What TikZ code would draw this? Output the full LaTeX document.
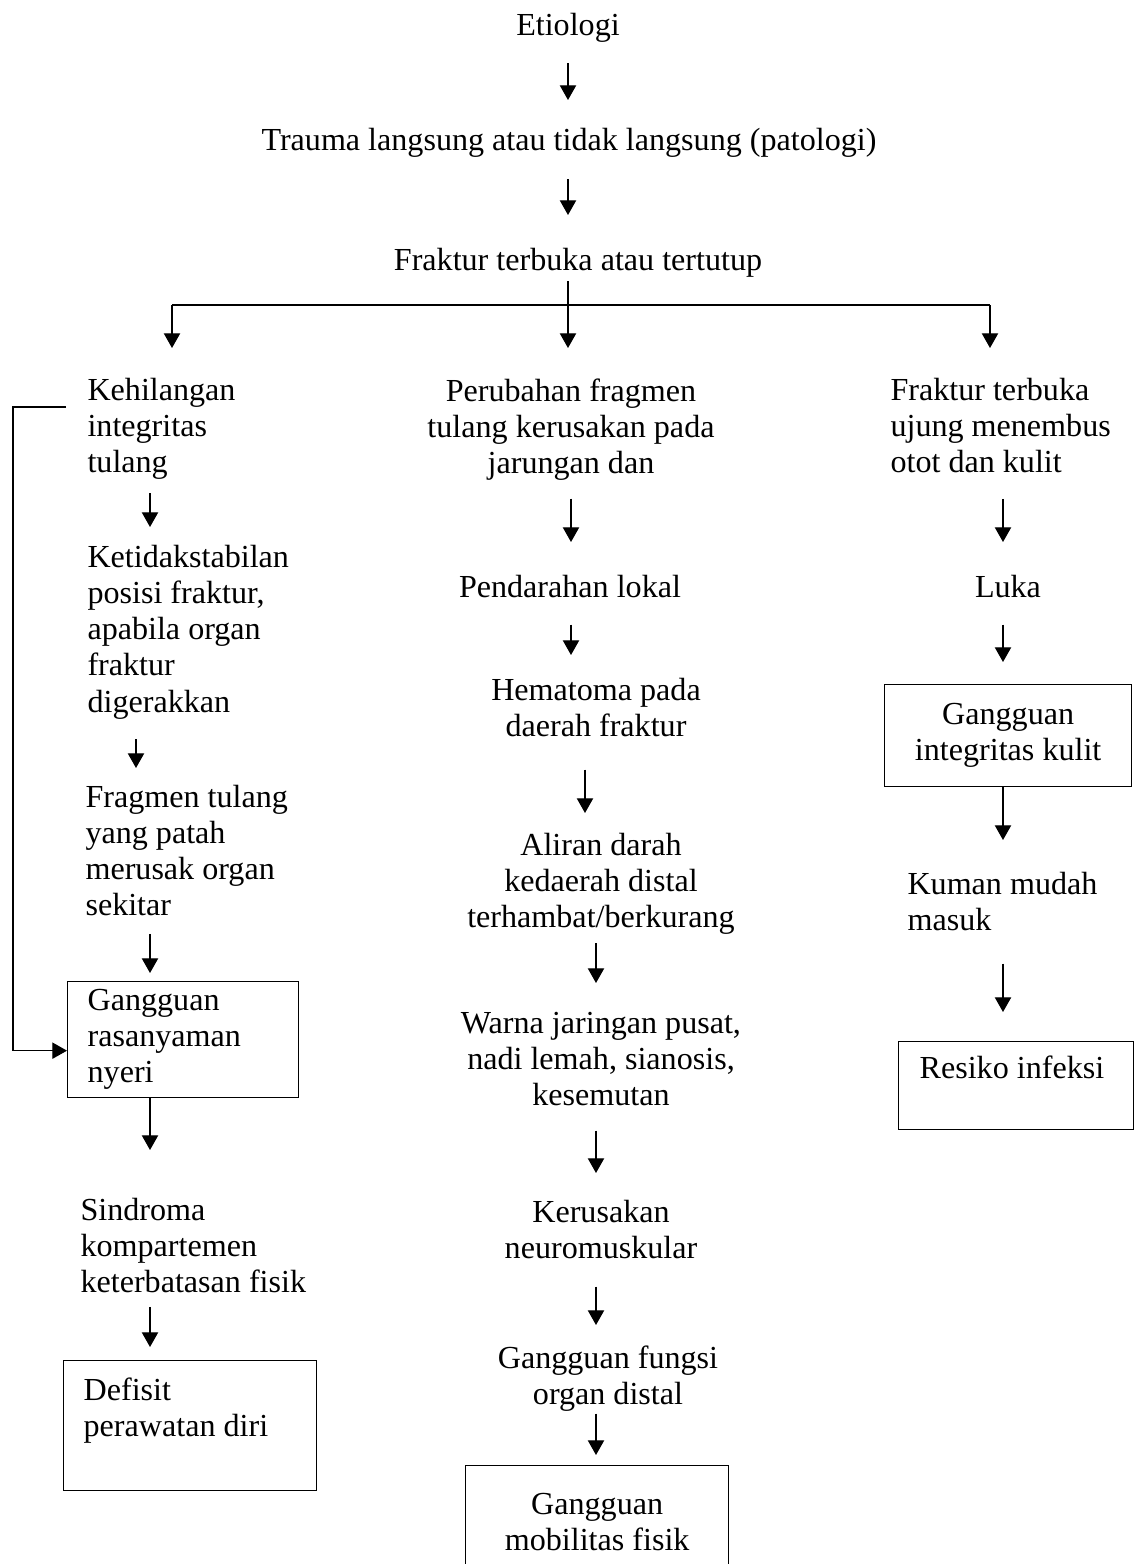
\documentclass[tikz,border=0pt]{standalone}
\usepackage{fontspec}
\setmainfont{Liberation Serif}
\usetikzlibrary{arrows.meta}
\newdimen\px \px=0.38pt

\begin{document}
\begin{tikzpicture}[x=0.38pt,y=-0.38pt,
  teks/.style={inner sep=0pt,font=\fontsize{12.2}{13.7}\selectfont},
  kiri/.style={teks,align=left,anchor=north west},
  tengah/.style={teks,align=center,anchor=north},
  kotak/.style={teks,draw,line width=0.5pt,anchor=north west},
  garis/.style={line width=0.5pt},
  panah/.style={garis,-{Triangle[length=5.6pt,width=6.2pt]}}]
\useasboundingbox (0,0) rectangle (1135,1564);

%%Top
\node[tengah] (etio) at (568,13) {Etiologi};
\node[tengah] (trauma) at (569,128) {Trauma langsung atau tidak langsung (patologi)};
\node[tengah] (fraktur) at (578,248) {Fraktur terbuka atau tertutup};
\coordinate (cab) at (568,305);

%%Left column
\node[kiri] (kehil) at (87,378) {Kehilangan\\integritas\\tulang};
\node[kiri] (ketid) at (87,545) {Ketidakstabilan\\posisi fraktur,\\apabila organ\\fraktur\\digerakkan};
\node[kiri] (fragm) at (85,785) {Fragmen tulang\\yang patah\\merusak organ\\sekitar};
\node[kotak,minimum width=231\px,minimum height=116\px,text width=191\px,inner xsep=20\px,align=flush left] (nyeri) at (67,981) {Gangguan\\rasanyaman\\nyeri};
\node[kiri] (sindr) at (80,1198) {Sindroma\\kompartemen\\keterbatasan fisik};
\node[kotak,minimum width=253\px,minimum height=130\px,text width=213\px,inner xsep=20\px,align=flush left] (defisit) at (63,1360) {Defisit\\perawatan diri\\\mbox{}};

%%Middle column
\node[tengah] (perub) at (571,378) {Perubahan fragmen\\tulang kerusakan pada\\jarungan dan};
\node[tengah] (pendar) at (570,575) {Pendarahan lokal};
\node[tengah] (hemat) at (596,678) {Hematoma pada\\daerah fraktur};
\node[tengah] (aliran) at (601,833) {Aliran darah\\kedaerah distal\\terhambat/berkurang};
\node[tengah] (warna) at (601,1012) {Warna jaringan pusat,\\nadi lemah, sianosis,\\kesemutan};
\node[tengah] (kerus) at (601,1200) {Kerusakan\\neuromuskular};
\node[tengah] (fungsi) at (608,1345) {Gangguan fungsi\\organ distal};
\node[kotak,minimum width=263\px,minimum height=112\px,align=center] (mobil) at (465,1465) {Gangguan\\mobilitas fisik};

%%Right column
\node[kiri] (ftbuka) at (890,378) {Fraktur terbuka\\ujung menembus\\otot dan kulit};
\node[tengah] (luka) at (1008,575) {Luka};
\node[kotak,minimum width=247\px,minimum height=102\px,align=center] (kulit) at (884,684) {Gangguan\\integritas kulit};
\node[kiri] (kuman) at (907,872) {Kuman mudah\\masuk};
\node[kotak,minimum width=235\px,minimum height=88\px,text width=193\px,inner xsep=21\px,align=flush left] (resiko) at (898,1041) {Resiko infeksi\\\mbox{}};

%%Arrows top
\draw[panah,shorten <=20\px,shorten >=28\px] (etio.south -| 568,0) -- (trauma.north -| 568,0);
\draw[panah,shorten <=21\px,shorten >=33\px] (trauma.south -| 568,0) -- (fraktur.north -| 568,0);
\draw[garis] (cab -| 172,0) -- (cab -| 990,0);
\draw[panah,shorten >=30\px] (cab -| 172,0) -- (kehil.north -| 172,0);
\draw[panah,shorten <=3\px,shorten >=30\px] (fraktur.south -| cab) -- (perub.north -| cab);
\draw[panah,shorten >=30\px] (cab -| 990,0) -- (ftbuka.north -| 990,0);

%%Arrows left
\draw[panah,shorten <=13\px,shorten >=18\px] (kehil.south -| 150,0) -- (ketid.north -| 150,0);
\draw[panah,shorten <=20\px,shorten >=17\px] (ketid.south -| 136,0) -- (fragm.north -| 136,0);
\draw[panah,shorten <=17\px,shorten >=8\px] (fragm.south -| 150,0) -- (nyeri.north -| 150,0);
\draw[panah,shorten >=48\px] (nyeri.south -| 150,0) -- (sindr.north -| 150,0);
\draw[panah,shorten <=13\px,shorten >=13\px] (sindr.south -| 150,0) -- (defisit.north -| 150,0);
\draw[panah] ([xshift=-21\px,yshift=-29\px]kehil.north west) -- ++(-53,0) |- ([yshift=-11\px]nyeri.west);

%%Arrows middle
\draw[panah,shorten <=18\px,shorten >=33\px] (perub.south -| 571,0) -- (pendar.north -| 571,0);
\draw[panah,shorten <=26\px,shorten >=23\px] (pendar.south -| 571,0) -- (hemat.north -| 571,0);
\draw[panah,shorten <=32\px,shorten >=20\px] (hemat.south -| 585,0) -- (aliran.north -| 585,0);
\draw[panah,shorten <=8\px,shorten >=29\px] (aliran.south -| 596,0) -- (warna.north -| 596,0);
\draw[panah,shorten <=24\px,shorten >=27\px] (warna.south -| 596,0) -- (kerus.north -| 596,0);
\draw[panah,shorten <=27\px,shorten >=20\px] (kerus.south -| 596,0) -- (fungsi.north -| 596,0);
\draw[panah,shorten <=2\px,shorten >=10\px] (fungsi.south -| 596,0) -- (mobil.north -| 596,0);

%%Arrows right
\draw[panah,shorten <=25\px,shorten >=33\px] (ftbuka.south -| 1003,0) -- (luka.north -| 1003,0);
\draw[panah,shorten <=26\px,shorten >=22\px] (luka.south -| 1003,0) -- (kulit.north -| 1003,0);
\draw[panah,shorten >=32\px] (kulit.south -| 1003,0) -- (kuman.north -| 1003,0);
\draw[panah,shorten <=32\px,shorten >=29\px] (kuman.south -| 1003,0) -- (resiko.north -| 1003,0);
\end{tikzpicture}
\end{document}
